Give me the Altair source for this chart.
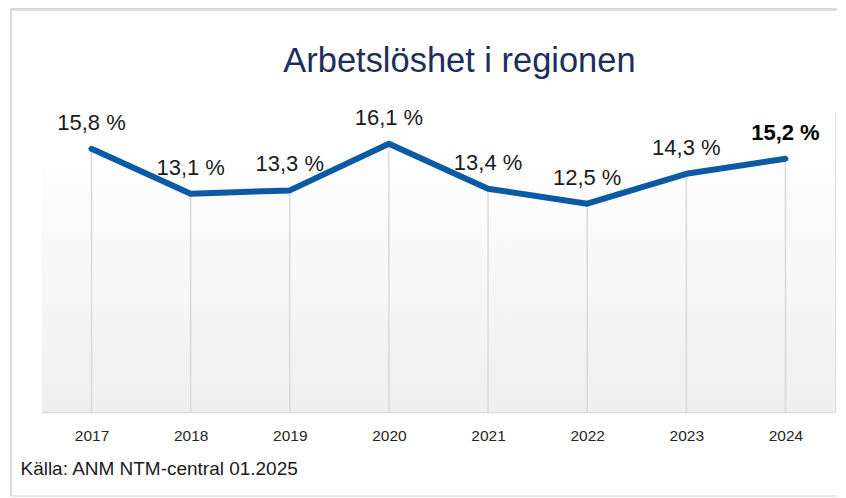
import altair as alt
import pandas as pd

years = ["2017", "2018", "2019", "2020", "2021", "2022", "2023", "2024"]
values = [15.8, 13.1, 13.3, 16.1, 13.4, 12.5, 14.3, 15.2]
labels = [f"{v:.1f}".replace(".", ",") + " %" for v in values]
bold_flags = [False] * 7 + [True]

df = pd.DataFrame({"year": years, "value": values, "label": labels, "bold": bold_flags})

W, H = 794, 300
xenc = alt.X("year:N", sort=years,
             scale=alt.Scale(type="point", padding=0.5),
             axis=alt.Axis(title="Källa: ANM NTM-central 01.2025", titleAnchor="start",
                           titleAlign="left", titleX=-22, titleY=63, titleFontSize=19,
                           titleFontWeight="normal", titleColor="#1a1a1a",
                           titleFont="Liberation Sans", titleBaseline="alphabetic",
                           labelFontSize=15.5, labelColor="#262626", labelFont="Liberation Sans",
                           labelPadding=17, labelAngle=0, ticks=False, grid=False,
                           domainColor="#d9d9d9", domainWidth=2))
yscale = alt.Scale(domain=[0, 18], nice=False, zero=True)
yenc = alt.Y("value:Q", scale=yscale, axis=None)

base = alt.Chart(df)

bg = base.mark_rect(
    fill=alt.Gradient(gradient="linear", x1=0, y1=0, x2=0, y2=1,
                      stops=[alt.GradientStop(color="#ffffff", offset=0.0),
                             alt.GradientStop(color="#ffffff", offset=0.12),
                             alt.GradientStop(color="#efefef", offset=1.0)])
).encode(x=alt.value(0), x2=alt.value(W), y=alt.value(0), y2=alt.value(H))

border_top = base.mark_rule(color="#d9d9d9", strokeWidth=2).encode(
    x=alt.value(-31), x2=alt.value(W + 2), y=alt.value(-103))
border_left = base.mark_rule(color="#d9d9d9", strokeWidth=2).encode(
    x=alt.value(-31), y=alt.value(-103), y2=alt.value(H + 84))
border_bottom = base.mark_rule(color="#e6e6e6", strokeWidth=1).encode(
    x=alt.value(-31), x2=alt.value(W + 2), y=alt.value(H + 84))

drop = base.mark_rule(color="#d9d9d9", strokeWidth=1.5).encode(
    x=xenc, y=yenc, y2=alt.datum(0))

line = base.mark_line(color="#0b5aa6", strokeWidth=6, strokeCap="round",
                      strokeJoin="round").encode(x=xenc, y=yenc)

txt_norm = base.transform_filter("!datum.bold").mark_text(
    fontSize=22, font="Liberation Sans", color="#1a1a1a", baseline="alphabetic", dy=-19
).encode(x=xenc, y=yenc, text="label:N")

txt_bold = base.transform_filter("datum.bold").mark_text(
    fontSize=22, font="Liberation Sans", color="#000000", fontWeight="bold",
    baseline="alphabetic", dy=-19
).encode(x=xenc, y=yenc, text="label:N")

chart = alt.layer(border_top, border_left, border_bottom, bg, drop, line,
                  txt_norm, txt_bold).properties(
    width=W, height=H,
    title=alt.TitleParams("Arbetslöshet i regionen", fontSize=34.5, font="Liberation Sans",
                          fontWeight="normal", color="#1f2d5a", anchor="middle",
                          dx=21, offset=-71),
    autosize=alt.AutoSizeParams(type="pad"),
    padding={"left": 2, "top": 0, "right": 0, "bottom": 0},
).configure_view(stroke=None).configure(background="white")

chart.save("out.html", embed_options={"renderer": "svg", "actions": False})
